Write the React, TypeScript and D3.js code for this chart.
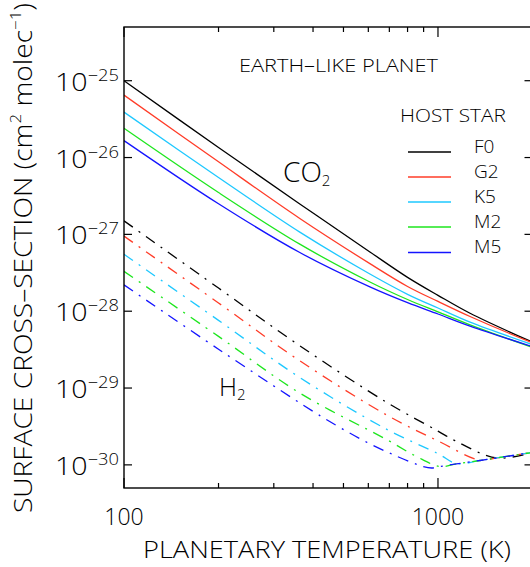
import React from 'react';
import * as d3 from 'd3';

// ---------- data ----------
const starNames = ['F0', 'G2', 'K5', 'M2', 'M5'];
const starColors = ['#000000', '#ff3c28', '#1ec8ff', '#1ee61e', '#1414ff'];

// CO2 surface cross-section (solid lines)
const co2Temps = [100, 200, 363, 607, 800, 1000, 1265, 2000];
const co2F0 = [1.0e-25, 1.35e-26, 2.49e-27, 5.91e-28, 2.76e-28, 1.61e-28, 9.4e-29, 3.95e-29];
const co2G2 = [6.5e-26, 8.8e-27, 1.61e-27, 4.16e-28, 2.1e-28, 1.34e-28, 8.53e-29, 3.88e-29];
const co2K5 = [3.9e-26, 5.5e-27, 1.07e-27, 3.05e-28, 1.66e-28, 1.1e-28, 7.2e-29, 3.68e-29];
const co2M2 = [2.4e-26, 3.5e-27, 7.46e-28, 2.4e-28, 1.42e-28, 9.8e-29, 6.64e-29, 3.38e-29];
const co2M5 = [1.66e-26, 2.5e-27, 5.8e-28, 2.07e-28, 1.29e-28, 9.2e-29, 6.4e-29, 3.45e-29];

// H2 surface cross-section (dash-dot lines)
const h2F0T = [100, 200, 363, 687, 1000, 1132, 1538];
const h2F0V = [1.5e-27, 2.0e-28, 3.55e-29, 6.5e-30, 2.75e-30, 2.07e-30, 1.23e-30];
const h2G2T = [100, 200, 363, 690, 1000, 1361];
const h2G2V = [9.5e-28, 1.28e-28, 2.26e-29, 4.4e-30, 2.05e-30, 1.15e-30];
const h2K5T = [100, 200, 363, 687, 1000, 1145];
const h2K5V = [5.5e-28, 7.6e-29, 1.37e-29, 2.9e-30, 1.4e-30, 1.04e-30];
const h2M2T = [100, 200, 363, 687, 850, 1014];
const h2M2V = [3.3e-28, 4.7e-29, 8.6e-30, 2.13e-30, 1.3e-30, 9.5e-31];
const h2M5T = [100, 200, 399, 485, 589, 722, 898, 954];
const h2M5V = [2.2e-28, 3.2e-29, 5.0e-30, 3.1e-30, 2.0e-30, 1.35e-30, 9.5e-31, 9.1e-31];
// common floor that all H2 curves join at high temperature
const floorT = [954, 1014, 1145, 1361, 1538, 2000];
const floorV = [9.1e-31, 9.5e-31, 1.03e-30, 1.14e-30, 1.23e-30, 1.45e-30];

const xMajorTicks = [100, 1000];
const xMinorTicks = [200, 300, 400, 500, 600, 700, 800, 900];
const yExponents = [-25, -26, -27, -28, -29, -30];

const FONT = "'Open Sans', 'DejaVu Sans', sans-serif";

export default function App() {
  const W = 530, H = 567;
  const left = 124, top = 27, bottom = 488;
  const x = d3.scaleLog().domain([100, 2000]).range([left, 532.5]);
  const y = d3.scaleLog().domain([5e-31, 5e-25]).range([bottom, top]);
  const right = x(2000);

  const line = d3.line<[number, number]>()
    .x(d => x(d[0]))
    .y(d => y(d[1]))
    .curve(d3.curveCatmullRom.alpha(0.5));

  const co2Series = [co2F0, co2G2, co2K5, co2M2, co2M5].map(vals =>
    co2Temps.map((t, i) => [t, vals[i]] as [number, number]));

  const h2Raw: [number[], number[]][] = [
    [h2F0T, h2F0V], [h2G2T, h2G2V], [h2K5T, h2K5V], [h2M2T, h2M2V], [h2M5T, h2M5V],
  ];
  const h2Series = h2Raw.map(([ts, vs]) => {
    const pts = ts.map((t, i) => [t, vs[i]] as [number, number]);
    const last = ts[ts.length - 1];
    floorT.forEach((t, i) => { if (t > last) pts.push([t, floorV[i]]); });
    return pts;
  });

  const sw = 1.3;
  const legendY = [152, 177, 202, 227, 252.5];

  return (
    <svg width={W} height={H} style={{ position: 'absolute', left: 0, top: 0, background: '#fff' }}
      fontFamily={FONT}>
      <defs>
        <clipPath id="plot">
          <rect x={left} y={top} width={right - left} height={bottom - top} />
        </clipPath>
      </defs>

      {/* data */}
      <g clipPath="url(#plot)" fill="none">
        {h2Series.map((pts, i) => (
          <path key={'h' + i} d={line(pts) || ''} stroke={starColors[i]} strokeWidth={sw}
            strokeDasharray="11,7,2,7" />
        ))}
        {co2Series.map((pts, i) => (
          <path key={'c' + i} d={line(pts) || ''} stroke={starColors[i]} strokeWidth={sw} />
        ))}
      </g>

      {/* frame */}
      <rect x={left} y={top} width={right - left} height={bottom - top} fill="none" stroke="#000" strokeWidth={1.4} />

      {/* ticks */}
      <g stroke="#000" strokeWidth={1.2}>
        {xMajorTicks.map(t => (
          <g key={'xM' + t}>
            <line x1={x(t)} x2={x(t)} y1={bottom} y2={bottom - 10} />
            <line x1={x(t)} x2={x(t)} y1={top} y2={top + 10} />
          </g>
        ))}
        {xMinorTicks.map(t => (
          <g key={'xm' + t}>
            <line x1={x(t)} x2={x(t)} y1={bottom} y2={bottom - 5} />
            <line x1={x(t)} x2={x(t)} y1={top} y2={top + 5} />
          </g>
        ))}
        {yExponents.map(e => (
          <g key={'y' + e}>
            <line x1={left} x2={left + 8} y1={y(Math.pow(10, e))} y2={y(Math.pow(10, e))} />
            <line x1={right} x2={right - 8} y1={y(Math.pow(10, e))} y2={y(Math.pow(10, e))} />
          </g>
        ))}
      </g>

      {/* x tick labels */}
      {xMajorTicks.map(t => (
        <text key={'xl' + t} x={x(t)} y={525} fontSize={23} textAnchor="middle"
          fontWeight={300} fill="#000">{String(t)}</text>
      ))}

      {/* y tick labels */}
      {yExponents.map(e => (
        <text key={'yl' + e} x={55} y={y(Math.pow(10, e)) + 10} fontSize={25}
          fontWeight={300} fill="#000" textLength={64} lengthAdjust="spacingAndGlyphs">
          10<tspan fontSize={16} dy={-10}>{'\u2212' + String(-e)}</tspan>
        </text>
      ))}

      {/* axis titles */}
      <text x={143} y={558.3} fontSize={23} fontWeight={300} textLength={368} lengthAdjust="spacingAndGlyphs">
        PLANETARY TEMPERATURE (K)
      </text>
      <text transform="translate(31.5,513) rotate(-90)" fontSize={25} fontWeight={300}
        textLength={510} lengthAdjust="spacingAndGlyphs">
        SURFACE CROSS{'\u2013'}SECTION (cm<tspan fontSize={15} dy={-11}>2</tspan>
        <tspan dy={11}> molec</tspan><tspan fontSize={15} dy={-11}>{'\u22121'}</tspan>
        <tspan dy={11}>)</tspan>
      </text>

      {/* annotations */}
      <text x={239} y={71.7} fontSize={18} fontWeight={300} textLength={199} lengthAdjust="spacingAndGlyphs">
        EARTH{'\u2013'}LIKE PLANET
      </text>
      <text x={400} y={121.7} fontSize={18} fontWeight={300} textLength={106} lengthAdjust="spacingAndGlyphs">
        HOST STAR
      </text>
      {starNames.map((n, i) => (
        <g key={'lg' + n}>
          <line x1={408} x2={451} y1={legendY[i]} y2={legendY[i]} stroke={starColors[i]} strokeWidth={sw} />
          <text x={474} y={legendY[i] + 0.5} fontSize={19} fontWeight={300}>{n}</text>
        </g>
      ))}
      <text x={283} y={181.7} fontSize={28} fontWeight={300}>
        CO<tspan fontSize={15} dy={4.5}>2</tspan>
      </text>
      <text x={219} y={395.7} fontSize={25} fontWeight={300}>
        H<tspan fontSize={15} dy={4.5}>2</tspan>
      </text>
    </svg>
  );
}
